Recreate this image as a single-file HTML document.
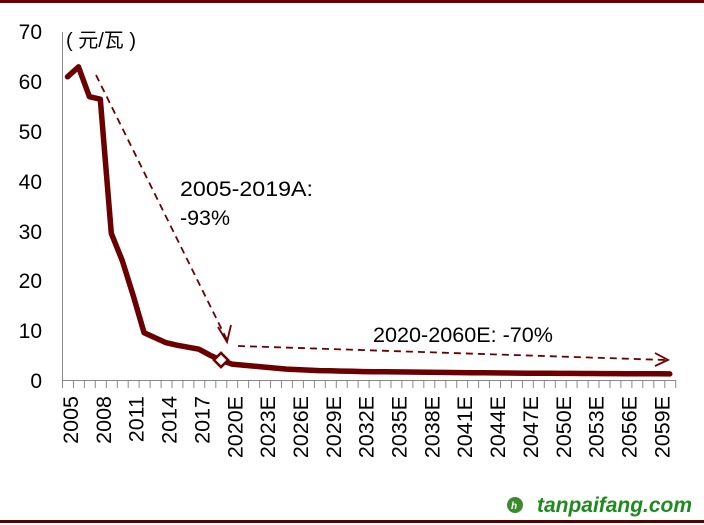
<!DOCTYPE html><html><head><style>body{margin:0;background:#fff}svg{display:block}text{font-family:"Liberation Sans","Noto Sans CJK SC",sans-serif}</style></head><body>
<svg width="704" height="525" viewBox="0 0 704 525">
<rect x="0" y="0" width="704" height="3" fill="#6b0000"/>
<rect x="0" y="520" width="704" height="3" fill="#5a0000"/>
<g font-size="21" fill="#000" text-anchor="end">
<text x="42" y="39">70</text><text x="42" y="89">60</text><text x="42" y="139">50</text><text x="42" y="189">40</text><text x="42" y="239">30</text><text x="42" y="288">20</text><text x="42" y="338">10</text><text x="42" y="388">0</text></g>
<text x="66" y="47" font-size="20">( 元/瓦 )</text>
<line x1="62.5" y1="32" x2="62.5" y2="380" stroke="#888" stroke-width="1"/>
<line x1="62" y1="380.5" x2="676" y2="380.5" stroke="#888" stroke-width="1"/>
<path id="ticks" stroke="#888" stroke-width="1" d=""/>
<g font-size="21.5" fill="#000" text-anchor="end">
<text transform="translate(78,396) rotate(-90)">2005</text>
<text transform="translate(110.9,396) rotate(-90)">2008</text>
<text transform="translate(143.7,396) rotate(-90)">2011</text>
<text transform="translate(176.6,396) rotate(-90)">2014</text>
<text transform="translate(209.4,396) rotate(-90)">2017</text>
<text transform="translate(242.3,396) rotate(-90)">2020E</text>
<text transform="translate(275.1,396) rotate(-90)">2023E</text>
<text transform="translate(308,396) rotate(-90)">2026E</text>
<text transform="translate(340.8,396) rotate(-90)">2029E</text>
<text transform="translate(373.7,396) rotate(-90)">2032E</text>
<text transform="translate(406.5,396) rotate(-90)">2035E</text>
<text transform="translate(439.4,396) rotate(-90)">2038E</text>
<text transform="translate(472.2,396) rotate(-90)">2041E</text>
<text transform="translate(505.1,396) rotate(-90)">2044E</text>
<text transform="translate(537.9,396) rotate(-90)">2047E</text>
<text transform="translate(570.8,396) rotate(-90)">2050E</text>
<text transform="translate(603.6,396) rotate(-90)">2053E</text>
<text transform="translate(636.5,396) rotate(-90)">2056E</text>
<text transform="translate(669.3,396) rotate(-90)">2059E</text>
</g>
<polyline fill="none" stroke="#6b0000" stroke-width="5.5" stroke-linejoin="round" stroke-linecap="round" id="ln" points=""/>
<path d="M96,75 L227,340" stroke="#6b0000" stroke-width="1.8" stroke-dasharray="7,5" fill="none"/>
<path d="M218,327 L227,342 L231,325" stroke="#6b0000" stroke-width="1.8" fill="none"/>
<path d="M238,346 L666,360" stroke="#6b0000" stroke-width="1.8" stroke-dasharray="7,5" fill="none"/>
<path d="M655,353 L668,360 L655,366" stroke="#6b0000" stroke-width="1.8" fill="none"/>
<rect x="216" y="355" width="10" height="10" transform="rotate(45 221 360)" fill="#fff" stroke="#6b0000" stroke-width="2.5"/>
<text x="180" y="196" font-size="21" textLength="133" lengthAdjust="spacingAndGlyphs">2005-2019A:</text>
<text x="180" y="225" font-size="21" textLength="50" lengthAdjust="spacingAndGlyphs">-93%</text>
<text x="373" y="342" font-size="21" textLength="180" lengthAdjust="spacingAndGlyphs">2020-2060E: -70%</text>
<circle cx="515" cy="505" r="8" fill="#3b8a2e"/>
<text x="511" y="509" font-size="10" fill="#fff" font-weight="bold" font-style="italic">h</text>
<text x="537" y="512" font-size="21" font-weight="bold" font-style="italic" fill="#1f8a1f" textLength="155" lengthAdjust="spacingAndGlyphs">tanpaifang.com</text>
<script>
var d="",s=10.95;
for(var i=0;i<=56;i++){var x=62.5+i*s;d+="M"+x.toFixed(1)+",380V388";}
document.getElementById("ticks").setAttribute("d",d);
var v=[61,63,57,56.5,29.5,24,17,9.5,8.5,7.5,7,6.6,6.2,5,4,3.2,3.0,2.8,2.6,2.4,2.2,2.1,2.0,1.9,1.85,1.8,1.75,1.7,1.68,1.65,1.62,1.6,1.58,1.55,1.52,1.5,1.48,1.46,1.44,1.42,1.4,1.38,1.36,1.35,1.34,1.33,1.32,1.31,1.3,1.29,1.28,1.27,1.26,1.25,1.24,1.23];
var p=v.map(function(a,i){return (67.5+i*s).toFixed(1)+","+(380-a*4.97).toFixed(1)}).join(" ");
document.getElementById("ln").setAttribute("points",p);
</script>
</svg></body></html>
